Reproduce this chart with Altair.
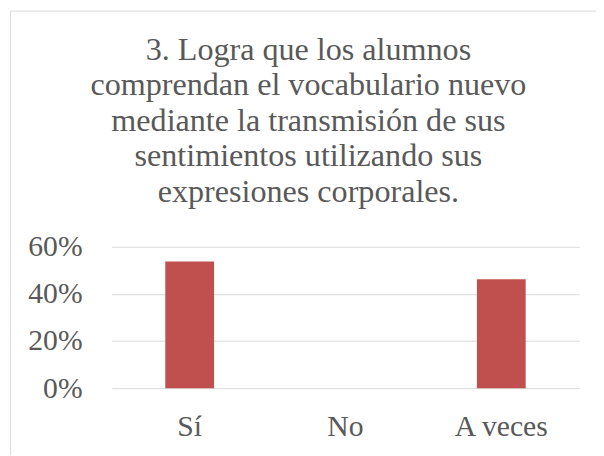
import altair as alt
import pandas as pd

categories = ["Sí", "No", "A veces"]
values = [0.538, 0.0, 0.462]
y_ticks = [0, 0.2, 0.4, 0.6]
title_lines = [
    "3. Logra que los alumnos",
    "comprendan el vocabulario nuevo",
    "mediante la transmisión de sus",
    "sentimientos utilizando sus",
    "expresiones corporales.",
]

FONT = "Liberation Serif"
TXT = "#595959"
GRID = "#d9d9d9"

df = pd.DataFrame({"cat": categories, "val": values})

bars = alt.Chart(df).mark_bar(color="#C0504D").encode(
    x=alt.X(
        "cat:N",
        sort=categories,
        scale=alt.Scale(paddingInner=0.687, paddingOuter=0.3435),
        axis=alt.Axis(
            title=None, labelAngle=0, domain=False, ticks=False, tickSize=0,
            labelPadding=48, labelBaseline="alphabetic", labelFont=FONT,
            labelFontSize=30, labelColor=TXT, grid=False,
        ),
    ),
    y=alt.Y(
        "val:Q",
        scale=alt.Scale(domain=[0, 0.6], nice=False),
        axis=alt.Axis(
            title=None, values=y_ticks, format=".0%", domain=False, ticks=False,
            tickSize=0, labelPadding=30, labelFont=FONT, labelFontSize=30,
            labelColor=TXT, gridColor=GRID, gridWidth=1,
        ),
    ),
)

frame = pd.DataFrame({"k": [0]})
left_edge = alt.Chart(frame).mark_rule(color=GRID, strokeWidth=1).encode(
    x=alt.value(-102.5), y=alt.value(-238.5), y2=alt.value(260)
)
top_edge = alt.Chart(frame).mark_rule(color=GRID, strokeWidth=1).encode(
    x=alt.value(-102.5), x2=alt.value(520), y=alt.value(-238.5)
)

chart = alt.layer(bars, left_edge, top_edge).properties(
    width=473,
    height=143,
    title=alt.TitleParams(
        text=title_lines, font=FONT, fontSize=32.5, fontWeight="normal",
        color=TXT, lineHeight=36, anchor="middle", dx=-37.5, offset=22, dy=222,
    ),
    autosize=alt.AutoSizeParams(type="none"),
    padding={"left": 105, "top": 239, "right": 17, "bottom": 65},
).configure_view(stroke=None)

chart.save("out.html", embed_options={"renderer": "svg", "actions": False})
